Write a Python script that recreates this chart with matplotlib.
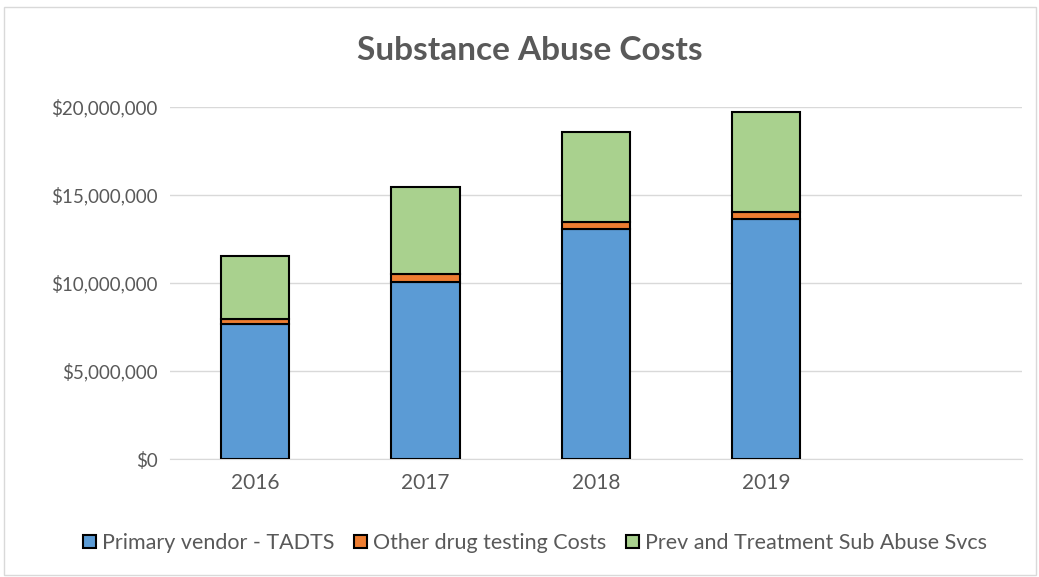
import matplotlib
matplotlib.use("Agg")
import matplotlib.pyplot as plt
import matplotlib.ticker as mticker
from matplotlib.patches import Rectangle, Patch
import numpy as np

plt.rcParams['font.family'] = ['Lato', 'DejaVu Sans']

# Data (dollars)
years = ["2016", "2017", "2018", "2019"]
n_slots = 5  # the category axis has one empty slot on the right
primary_vendor = [7660000, 10070000, 13070000, 13620000]
other_testing = [270000, 420000, 380000, 400000]
prev_treatment = [3600000, 4980000, 5110000, 5680000]
series_names = ["Primary vendor - TADTS", "Other drug testing Costs",
                "Prev and Treatment Sub Abuse Svcs"]
colors = ["#5B9BD5", "#ED7D31", "#A9D18E"]
text_grey = "#595959"

fig = plt.figure(figsize=(10.39, 5.77), dpi=100)
ax = fig.add_axes([0.1636, 0.2045, 0.82, 0.61])

# light frame around the whole chart
fig.patches.append(Rectangle((0.004, 0.003), 0.993, 0.985, transform=fig.transFigure,
                             fill=False, edgecolor="#D9D9D9", linewidth=1))

x = np.arange(len(years))
bottom = np.zeros(len(years))
for vals, name, col in zip([primary_vendor, other_testing, prev_treatment],
                           series_names, colors):
    ax.bar(x, vals, width=0.4, bottom=bottom, color=col, edgecolor="black",
           linewidth=1.5, label=name, zorder=3)
    bottom += np.array(vals)

ax.set_xlim(-0.5, n_slots - 0.5)
ax.set_ylim(0, 20000000)
ax.yaxis.set_major_locator(mticker.MultipleLocator(5000000))
ax.yaxis.set_major_formatter(mticker.FuncFormatter(lambda v, p: "${:,.0f}".format(v)))
ax.set_xticks(x)
ax.set_xticklabels(years)
ax.grid(axis="y", color="#D9D9D9", linewidth=1, zorder=0)
for s in ["top", "right", "left"]:
    ax.spines[s].set_visible(False)
ax.spines["bottom"].set_color("#D9D9D9")
ax.tick_params(axis="both", length=0, colors=text_grey)
ax.tick_params(axis="x", pad=10, labelsize=15)
ax.tick_params(axis="y", pad=9, labelsize=13.5)

fig.text(0.51, 0.912, "Substance Abuse Costs", ha="center", va="center",
         fontsize=24, fontweight="bold", color=text_grey)

handles = [Patch(facecolor=c, edgecolor="black", linewidth=1.5) for c in colors]
leg = fig.legend(handles, series_names, loc="center", bbox_to_anchor=(0.515, 0.059),
                 ncol=3, frameon=False, fontsize=15.5, handlelength=0.6, handleheight=0.6,
                 handletextpad=0.3, columnspacing=0.9)
for t in leg.get_texts():
    t.set_color(text_grey)

fig.savefig("out.png", dpi=100)
